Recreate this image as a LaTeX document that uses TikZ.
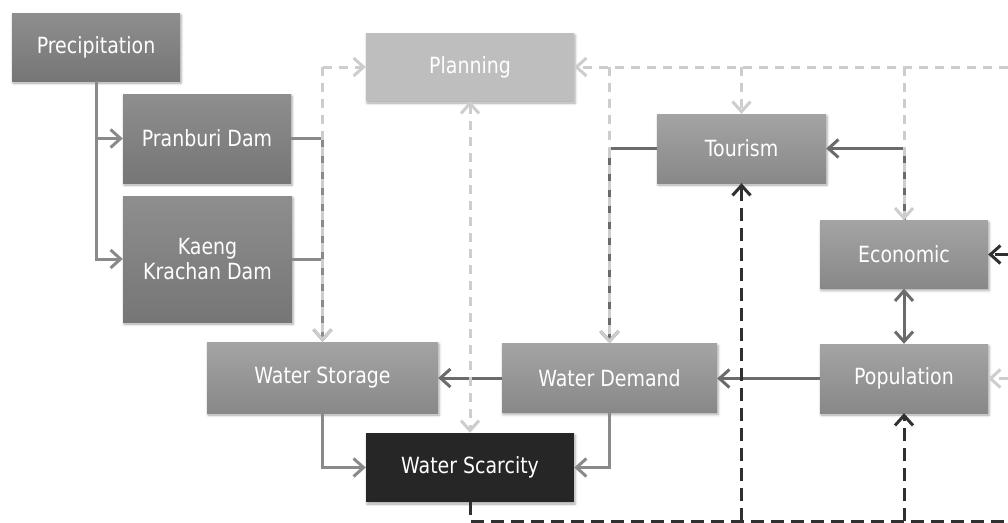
\documentclass[tikz,border=0pt]{standalone}
\usepackage{fontspec}
\setmainfont{DejaVu Sans}[FakeStretch=0.85]
\usetikzlibrary{arrows.meta,shadows.blur}
\definecolor{boxtopA}{HTML}{8E8E8E}
\definecolor{boxbotA}{HTML}{767676}
\definecolor{boxtopB}{HTML}{A4A4A4}
\definecolor{boxbotB}{HTML}{888888}
\definecolor{planfill}{HTML}{BEBEBE}
\definecolor{scarfill}{HTML}{262626}
\definecolor{midline}{HTML}{8A8A8A}
\definecolor{darkline}{HTML}{6B6B6B}
\definecolor{lightdash}{HTML}{CDCDCD}
\definecolor{blackdash}{HTML}{303030}
\tikzset{
  box/.style={rectangle, inner sep=0pt, align=center, text=white,
    font=\fontsize{22.3}{25}\selectfont,
    blur shadow={shadow xshift=1pt, shadow yshift=-2pt, shadow blur radius=2.5pt, shadow opacity=35}},
  boxA/.style={box, top color=boxtopA, bottom color=boxbotA},
  boxB/.style={box, top color=boxtopB, bottom color=boxbotB},
  boxplan/.style={box, fill=planfill},
  boxscar/.style={box, fill=scarfill},
  barb/.tip={Straight Barb[length=10pt,width=18pt]},
  tip/.style={-barb},
  twotips/.style={barb-barb},
  gline/.style={draw=midline, line width=3pt, tip},
  dline/.style={draw=darkline, line width=3pt, tip},
  ldash/.style={draw=lightdash, line width=3pt, dash pattern=on 9pt off 7pt, tip},
  kdash/.style={draw=blackdash, line width=3pt, dash pattern=on 13pt off 7pt, tip},
}
\begin{document}
\begin{tikzpicture}[x=1pt,y=-1pt]
\useasboundingbox (0,0) rectangle (1008,522);

% boxes
\node[boxA, minimum width=168pt, minimum height=68pt] (prec) at (96,47) {Precipitation};
\node[boxA, minimum width=168pt, minimum height=89pt] (pran) at (207,138.5) {Pranburi Dam};
\node[boxA, minimum width=169pt, minimum height=126pt] (kaeng) at (207.5,259) {Kaeng\\Krachan Dam};
\node[boxplan, minimum width=208pt, minimum height=68pt] (plan) at (470,67) {Planning};
\node[boxB, minimum width=169pt, minimum height=69pt] (tour) at (741.5,148.5) {Tourism};
\node[boxB, minimum width=168pt, minimum height=68pt] (econ) at (904,254.5) {Economic};
\node[boxB, minimum width=231pt, minimum height=71pt] (stor) at (322.5,377.5) {Water Storage};
\node[boxB, minimum width=215pt, minimum height=69pt] (dem) at (609.5,378) {Water Demand};
\node[boxB, minimum width=168pt, minimum height=69pt] (pop) at (904,378.5) {Population};
\node[boxscar, minimum width=208pt, minimum height=69pt] (scar) at (470,467.5) {Water Scarcity};

% free ends at the picture border
\coordinate (edgeTop) at (1008,67);
\coordinate (edgeEcon) at (1008,254.5);
\coordinate (edgePop) at (1008,378.5);
\coordinate (bottomL) at (470,521);
\coordinate (bottomR) at (1008,521);

% precipitation feeds the dams
\draw[gline] (prec.south) |- (kaeng.west);
\draw[gline] (prec.south |- pran.west) -- (pran.west);

% dams feed storage
\draw[gline] (pran.east) -| (stor.north);
\draw[gline, -] (kaeng.east) -- (kaeng.east -| stor.north);

% storage and demand to scarcity
\draw[gline] (stor.south) |- (scar.west);
\draw[gline] (dem.south) |- (scar.east);

% solid causal links
\draw[dline] (tour.west) -| (dem.north);
\draw[dline] (econ.north) |- (tour.east);
\draw[dline] (dem.west) -- (dem.west -| stor.east);
\draw[dline] (pop.west) -- (pop.west -| dem.east);
\draw[dline, twotips] (econ.south) -- (pop.north);

% planning feedback (light dashed)
\draw[ldash] (stor.north |- plan.west) -- (plan.west);
\draw[ldash] (stor.north |- plan.west) -- (stor.north);
\draw[ldash, twotips] (plan.south) -- (scar.north);
\draw[ldash] (edgeTop) -- (plan.east);
\draw[ldash, -] (dem.north |- plan.east) -- (dem.north |- tour.west);
\draw[ldash] (dem.north |- tour.west) -- (dem.north);
\draw[ldash] (tour.north |- plan.east) -- (tour.north);
\draw[ldash] (econ.north |- plan.east) -- (econ.north);
\draw[ldash] (edgePop) -- (pop.east);

% scarcity feedback (dark dashed)
\draw[kdash, -] (scar.south) -- (bottomL) -- (bottomR);
\draw[kdash] (bottomL -| tour.south) -- (tour.south);
\draw[kdash] (bottomL -| pop.south) -- (pop.south);
\draw[kdash] (edgeEcon) -- (econ.east);
\end{tikzpicture}
\end{document}
